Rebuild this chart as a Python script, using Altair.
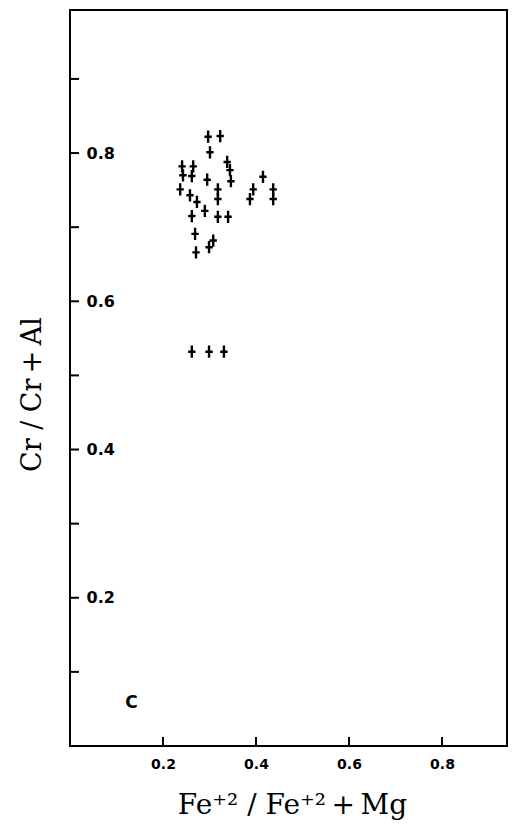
import altair as alt
import pandas as pd

# Fe+2/(Fe+2+Mg) and Cr/(Cr+Al) of each analysed spinel
fe_ratio = [0.297, 0.323, 0.301, 0.338, 0.344, 0.346, 0.241, 0.265, 0.243, 0.262,
            0.295, 0.318, 0.318, 0.237, 0.258, 0.273, 0.262, 0.290, 0.318, 0.340,
            0.269, 0.271, 0.308, 0.299, 0.415, 0.437, 0.437, 0.394, 0.387,
            0.262, 0.299, 0.331]
cr_ratio = [0.822, 0.823, 0.801, 0.788, 0.777, 0.762, 0.782, 0.782, 0.770, 0.769,
            0.764, 0.751, 0.738, 0.751, 0.743, 0.734, 0.715, 0.722, 0.714, 0.714,
            0.691, 0.666, 0.682, 0.673, 0.768, 0.751, 0.738, 0.751, 0.738,
            0.532, 0.532, 0.532]

x_tick_values = [0.2, 0.4, 0.6, 0.8]
y_tick_values = [0.1, 0.2, 0.3, 0.4, 0.5, 0.6, 0.7, 0.8, 0.9]
y_label_values = [0.2, 0.4, 0.6, 0.8]
panel_label = ["C"]
panel_label_x = [0.132]
panel_label_y = [0.058]

x_title = "Fe⁺² / Fe⁺²\u2009+\u2009Mg"
y_title = "Cr / Cr\u2009+\u2009Al"

pts = pd.DataFrame({"fe": fe_ratio, "cr": cr_ratio})

W, H = 437, 736
x_scale = alt.Scale(domain=[0, W / 465], nice=False, zero=False)
y_scale = alt.Scale(domain=[0, 0.993], nice=False, zero=False)

points = alt.Chart(pts).mark_point(
    shape="M0,-1L0,1M-0.6,0L0.6,0", filled=False, size=150,
    strokeWidth=2.4, color="black", opacity=1,
).encode(
    x=alt.X("fe:Q", scale=x_scale, axis=alt.Axis(
        values=x_tick_values, format=".1f", title=x_title,
        grid=False, domain=False, ticks=False,
        labelPadding=11, labelFontSize=14, labelFontWeight="bold",
        labelFont="DejaVu Sans", labelColor="black",
        titleFont="DejaVu Serif", titleFontSize=28, titleFontWeight="normal",
        titleColor="black", titleX=222, titleY=67,
        titleAlign="center", titleBaseline="alphabetic",
    )),
    y=alt.Y("cr:Q", scale=y_scale, axis=alt.Axis(
        values=y_label_values, format=".1f", title=y_title,
        grid=False, domain=False, ticks=False,
        labelAlign="left", labelBaseline="middle", labelPadding=-16,
        labelFontSize=16, labelFontWeight="bold",
        labelFont="DejaVu Sans", labelColor="black",
        titleFont="DejaVu Serif", titleFontSize=27, titleFontWeight="normal",
        titleColor="black", titleX=-38, titleY=384, titleAngle=270,
        titleAlign="center", titleBaseline="middle",
    )),
)

y_ticks = alt.Chart(pd.DataFrame({"v": y_tick_values})).mark_rule(
    color="black", strokeWidth=2
).encode(
    y=alt.Y("v:Q", scale=y_scale),
    x=alt.value(0), x2=alt.value(9),
)

x_ticks = alt.Chart(pd.DataFrame({"v": x_tick_values})).mark_rule(
    color="black", strokeWidth=2
).encode(
    x=alt.X("v:Q", scale=x_scale),
    y=alt.value(H), y2=alt.value(H - 9),
)

label = alt.Chart(pd.DataFrame({"x": panel_label_x, "y": panel_label_y, "t": panel_label})).mark_text(
    font="DejaVu Sans", fontSize=17, fontWeight="bold", color="black",
    align="center", baseline="middle",
).encode(
    x=alt.X("x:Q", scale=x_scale),
    y=alt.Y("y:Q", scale=y_scale),
    text="t:N",
)

chart = alt.layer(points, y_ticks, x_ticks, label).properties(
    width=W, height=H,
    autosize=alt.AutoSizeParams(type="none"),
    padding={"left": 62, "top": 2, "right": 1, "bottom": 74},
    background="white",
).configure_view(
    stroke="black", strokeWidth=2, fill="white",
)

chart.save("out.html", embed_options={"renderer": "svg", "actions": False})
